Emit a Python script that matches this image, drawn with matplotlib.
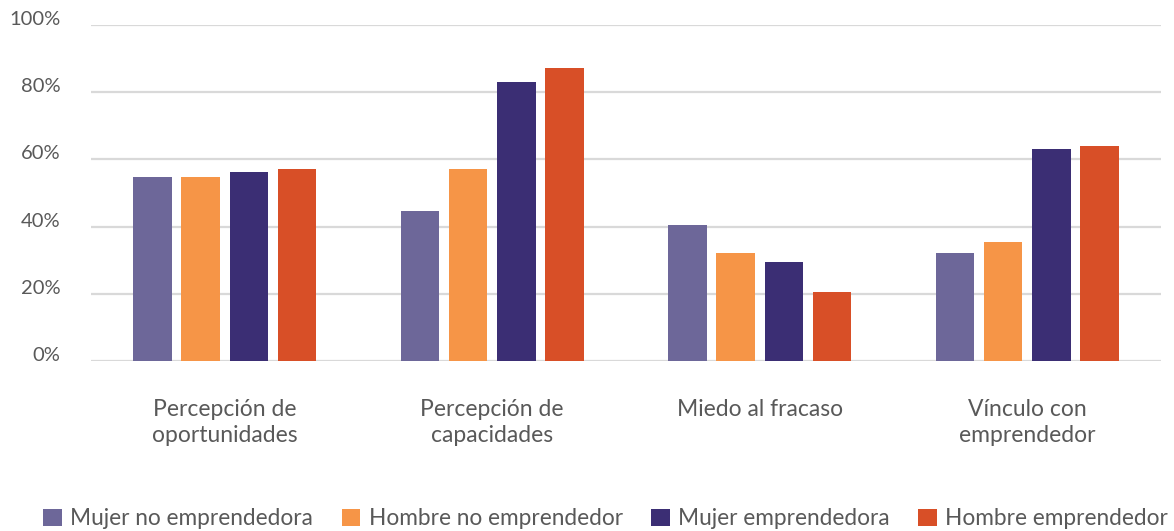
import matplotlib
matplotlib.use("Agg")
import matplotlib.pyplot as plt
import matplotlib.transforms as mtransforms
import numpy as np

plt.rcParams['font.family'] = ['Lato', 'DejaVu Sans']

categories = ["Percepción de\noportunidades", "Percepción de\ncapacidades",
              "Miedo al fracaso", "Vínculo con\nemprendedor"]
series_names = ["Mujer no emprendedora", "Hombre no emprendedor",
                "Mujer emprendedora", "Hombre emprendedor"]
mujer_no_emp = [54.8, 44.6, 40.5, 32.1]
hombre_no_emp = [54.8, 57.1, 32.1, 35.4]
mujer_emp = [56.3, 83.0, 29.5, 63.1]
hombre_emp = [57.1, 87.2, 20.5, 64.0]
colors = ["#6D6799", "#F69547", "#3B2E74", "#D84F27"]
yticks = [0, 20, 40, 60, 80, 100]

fig = plt.figure(figsize=(11.74, 5.31), dpi=100)
ax = fig.add_axes([91 / 1174, 170 / 531, 1070 / 1174, 336 / 531])

x = np.arange(len(categories))
width = 0.144
step = 0.18
all_series = [mujer_no_emp, hombre_no_emp, mujer_emp, hombre_emp]
for i, (vals, name, c) in enumerate(zip(all_series, series_names, colors)):
    offs = (i - 1.5) * step
    ax.bar(x + offs, vals, width, color=c, label=name, zorder=3)

ax.set_xlim(-0.5, len(categories) - 0.5)
ax.set_ylim(0, 100)
ax.set_yticks(yticks)
ax.set_yticklabels([f"{t}%" for t in yticks])
ax.set_xticks(x)
ax.set_xticklabels(categories, linespacing=1.32)
ax.grid(axis='y', color='#D9D9D9', linewidth=1.6, zorder=0)
for s in ax.spines.values():
    s.set_visible(False)
ax.tick_params(axis='both', length=0, colors='#595959')
ax.tick_params(axis='x', pad=27, labelsize=16.5)
ax.tick_params(axis='y', pad=22, labelsize=14.5)

# lift the percent labels a little above their gridlines
lift = mtransforms.ScaledTranslation(0, 7 / 100, fig.dpi_scale_trans)
for lab in ax.get_yticklabels():
    lab.set_transform(lab.get_transform() + lift)

fig.legend(loc='center', bbox_to_anchor=(0.516, 0.0226), ncol=4,
           frameon=False, fontsize=16.3, labelcolor='#595959',
           handlelength=0.82, handleheight=0.82, handletextpad=0.38,
           columnspacing=1.25, borderpad=0, borderaxespad=0)

fig.savefig("out.png", dpi=100)
